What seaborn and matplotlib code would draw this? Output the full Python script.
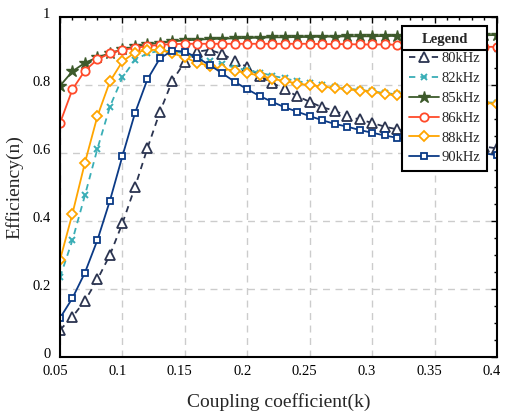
import numpy as np
import pandas as pd
import matplotlib
matplotlib.use("Agg")
import matplotlib.pyplot as plt
from matplotlib.ticker import MultipleLocator, FixedLocator
from matplotlib.lines import Line2D
from matplotlib.transforms import ScaledTranslation
import seaborn as sns

k = [round(0.05 + 0.01 * i, 2) for i in range(36)]

eff_80 = [0.079, 0.118, 0.165, 0.228, 0.300, 0.393, 0.499, 0.614, 0.721, 0.813,
          0.869, 0.899, 0.904, 0.892, 0.872, 0.854, 0.827, 0.807, 0.788, 0.768,
          0.751, 0.735, 0.725, 0.709, 0.699, 0.689, 0.678, 0.670, 0.661, 0.652,
          0.644, 0.637, 0.630, 0.624, 0.619, 0.614]
eff_82 = [0.234, 0.344, 0.476, 0.613, 0.737, 0.823, 0.874, 0.894, 0.901, 0.901,
          0.893, 0.880, 0.870, 0.861, 0.852, 0.844, 0.837, 0.828, 0.820, 0.812,
          0.806, 0.800, 0.795, 0.790, 0.786, 0.782, 0.777, 0.773, 0.769, 0.766,
          0.762, 0.759, 0.756, 0.753, 0.750, 0.748]
eff_85 = [0.798, 0.841, 0.866, 0.882, 0.894, 0.906, 0.914, 0.920, 0.925, 0.929,
          0.932, 0.934, 0.936, 0.937, 0.938, 0.939, 0.940, 0.941, 0.941, 0.942,
          0.942, 0.943, 0.943, 0.944, 0.944, 0.944, 0.945, 0.945, 0.945, 0.946,
          0.946, 0.946, 0.947, 0.947, 0.947, 0.948]
eff_86 = [0.688, 0.788, 0.843, 0.876, 0.894, 0.904, 0.910, 0.915, 0.919, 0.921,
          0.922, 0.922, 0.922, 0.922, 0.922, 0.922, 0.922, 0.922, 0.922, 0.922,
          0.922, 0.921, 0.921, 0.921, 0.920, 0.920, 0.920, 0.919, 0.918, 0.917,
          0.916, 0.915, 0.914, 0.913, 0.913, 0.913]
eff_88 = [0.285, 0.422, 0.572, 0.709, 0.811, 0.870, 0.896, 0.904, 0.904, 0.894,
          0.882, 0.866, 0.857, 0.848, 0.843, 0.835, 0.829, 0.819, 0.812, 0.805,
          0.800, 0.796, 0.792, 0.788, 0.784, 0.781, 0.774, 0.770, 0.767, 0.764,
          0.760, 0.757, 0.753, 0.750, 0.748, 0.745]
eff_90 = [0.114, 0.173, 0.248, 0.344, 0.460, 0.591, 0.717, 0.817, 0.879, 0.902,
          0.899, 0.881, 0.859, 0.835, 0.810, 0.788, 0.768, 0.751, 0.735, 0.722,
          0.709, 0.697, 0.686, 0.678, 0.668, 0.660, 0.652, 0.645, 0.638, 0.631,
          0.624, 0.617, 0.611, 0.605, 0.599, 0.594]

labels = ["80kHz", "82kHz", "85kHz", "86kHz", "88kHz", "90kHz"]
series = [eff_80, eff_82, eff_85, eff_86, eff_88, eff_90]

x_ticks = [0.05, 0.1, 0.15, 0.2, 0.25, 0.3, 0.35, 0.4]
x_tick_labels = ["0.05", "0.1", "0.15", "0.2", "0.25", "0.3", "0.35", "0.4"]
y_ticks = [0, 0.2, 0.4, 0.6, 0.8, 1.0]
y_tick_labels = ["0", "0.2", "0.4", "0.6", "0.8", "1"]

styles = [
    dict(color="#2b3450", marker="^", markersize=7, markerfacecolor="white",
         markeredgewidth=1.3, linestyle=(0, (3.5, 2.8))),
    dict(color="#3aaeb6", marker="x", markersize=4, markerfacecolor="#3aaeb6",
         markeredgewidth=1.4, linestyle=(0, (3.5, 2.8))),
    dict(color="#3d5a2b", marker="*", markersize=9, markerfacecolor="#3d5a2b",
         markeredgewidth=1.0, linestyle="-"),
    dict(color="#ff4a2a", marker="o", markersize=6, markerfacecolor="white",
         markeredgewidth=1.3, linestyle="-"),
    dict(color="#ffa500", marker="D", markersize=5, markerfacecolor="white",
         markeredgewidth=1.3, linestyle="-"),
    dict(color="#0b3a86", marker="s", markersize=5, markerfacecolor="white",
         markeredgewidth=1.3, linestyle="-"),
]

sns.set_theme(style="white")
plt.rcParams["font.family"] = ["Liberation Serif", "DejaVu Serif"]

fig = plt.figure(figsize=(5.05, 4.12), dpi=100)
ax = fig.add_axes([0.1188, 0.134, 0.8652, 0.824])

for lab, vals, st in zip(labels, series, styles):
    df = pd.DataFrame({"k": k, "eff": vals})
    n_before = len(ax.lines)
    sns.lineplot(data=df, x="k", y="eff", ax=ax, label=lab, color=st["color"],
                 linewidth=1.3, legend=False)
    ln = ax.lines[n_before]
    ln.set_linestyle(st["linestyle"])
    ln.set_marker(st["marker"])
    ln.set_markersize(st["markersize"])
    ln.set_markerfacecolor(st["markerfacecolor"])
    ln.set_markeredgecolor(st["color"])
    ln.set_markeredgewidth(st["markeredgewidth"])
    ln.set_label(lab)

ax.set_xlim(0.05, 0.4)
ax.set_ylim(0, 1)
ax.xaxis.set_major_locator(FixedLocator(x_ticks))
ax.set_xticklabels(x_tick_labels)
ax.yaxis.set_major_locator(FixedLocator(y_ticks))
ax.set_yticklabels(y_tick_labels)
ax.xaxis.set_minor_locator(MultipleLocator(0.01))
ax.yaxis.set_minor_locator(MultipleLocator(0.05))
ax.tick_params(which="both", direction="in", top=True, right=True,
               labelsize=10.5, colors="black", width=1.0)
ax.tick_params(which="major", length=4.5)
ax.tick_params(axis="x", which="major", pad=6)
ax.tick_params(axis="y", which="major", pad=7)
ax.tick_params(which="minor", length=2.5)
for lbl in ax.get_xticklabels():
    lbl.set_transform(lbl.get_transform() + ScaledTranslation(-0.05, 0, fig.dpi_scale_trans))
for lbl in ax.get_yticklabels():
    lbl.set_transform(lbl.get_transform() + ScaledTranslation(0, 0.04, fig.dpi_scale_trans))
for s in ax.spines.values():
    s.set_linewidth(1.5)
    s.set_color("black")
ax.grid(True, which="major", linestyle=(0, (5, 4)), color="#cccccc", linewidth=1.0)
ax.set_axisbelow(True)

ax.set_xlabel("Coupling coefficient(k)", fontsize=14, labelpad=11)
ax.set_ylabel("Efficiency(n)", fontsize=14, labelpad=6)

leg = ax.legend(loc="upper right", bbox_to_anchor=(0.977, 0.974), title="Legend",
                fancybox=False, framealpha=1, edgecolor="black", fontsize=10.5,
                title_fontproperties={"weight": "bold", "size": 10.5},
                handlelength=2.1, labelspacing=0.45, borderpad=0.45,
                handletextpad=0.15, borderaxespad=0)
leg.get_frame().set_linewidth(1.5)

fig.canvas.draw()
r = fig.canvas.get_renderer()
fb = leg.get_frame().get_window_extent(r)
tb = leg.get_title().get_window_extent(r)
yline = tb.y0 - 4
inv = fig.transFigure.inverted()
x0, y0 = inv.transform((fb.x0, yline))
x1, _ = inv.transform((fb.x1, yline))
fig.add_artist(Line2D([x0, x1], [y0, y0], transform=fig.transFigure,
                      color="black", linewidth=1.5, zorder=10))

fig.savefig("out.png", dpi=100)
